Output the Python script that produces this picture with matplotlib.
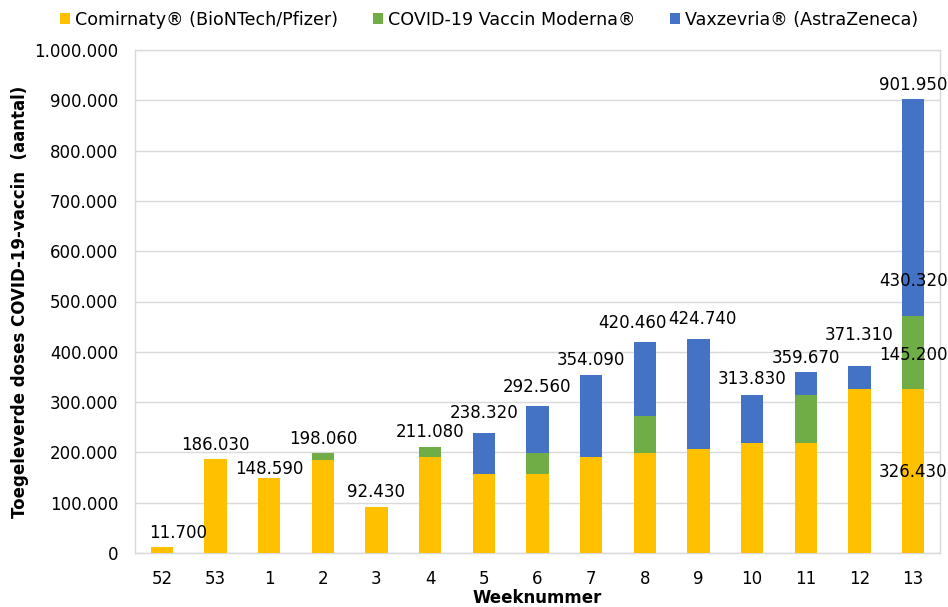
import matplotlib
matplotlib.use("Agg")
import matplotlib.pyplot as plt
from matplotlib.patches import Patch
import numpy as np

weeks = ["52", "53", "1", "2", "3", "4", "5", "6", "7", "8", "9", "10", "11", "12", "13"]
pfizer = [11700, 186030, 148590, 184000, 92430, 191000, 158000, 158000, 191000, 199000, 207000, 219000, 219000, 326430, 326430]
moderna = [0, 0, 0, 14060, 0, 20080, 0, 40000, 0, 73000, 0, 0, 94500, 0, 145200]
astra = [0, 0, 0, 0, 0, 0, 80320, 94560, 163090, 148460, 217740, 94830, 46170, 44880, 430320]
series_names = ["Comirnaty® (BioNTech/Pfizer)", "COVID-19 Vaccin Moderna®", "Vaxzevria® (AstraZeneca)"]
colors = ["#FFC000", "#70AD47", "#4472C4"]

# label offsets in points (dx, dy) for the total labels
total_offsets = [(12, 4), (0, 4), (0, 0), (0, 4), (0, 4), (0, 4), (0, 8), (0, 7), (0, 4),
                 (-9, 7), (3, 8), (0, 5), (0, 4), (0, 16), (0, 4)]

def fmt(v):
    return f"{v:,.0f}".replace(",", ".")

plt.rcParams['font.family'] = ['DejaVu Sans']
fig = plt.figure(figsize=(9.48, 6.07), dpi=100)
ax = fig.add_axes([135/948, 54/607, 805/948, 503/607])

x = np.arange(len(weeks))
p = np.array(pfizer); m = np.array(moderna); a = np.array(astra)
w = 0.41
ax.bar(x, p, w, color=colors[0], zorder=3)
ax.bar(x, m, w, bottom=p, color=colors[1], zorder=3)
ax.bar(x, a, w, bottom=p + m, color=colors[2], zorder=3)

totals = p + m + a
for i, t in enumerate(totals):
    dx, dy = total_offsets[i]
    ax.annotate(fmt(t), (x[i], t), xytext=(dx, dy), textcoords="offset points",
                ha="center", va="bottom", fontsize=12, color="#000000", zorder=5)

# segment labels for last week
i = len(weeks) - 1
ax.annotate(fmt(p[i]), (x[i], p[i] / 2), xytext=(0, -1), textcoords="offset points",
            ha="center", va="center", fontsize=12, zorder=5)
ax.annotate(fmt(m[i]), (x[i], p[i] + m[i] / 2), xytext=(0, -2), textcoords="offset points",
            ha="center", va="center", fontsize=12, zorder=5)
ax.annotate(fmt(a[i]), (x[i], p[i] + m[i] + a[i] / 2), xytext=(0, -53), textcoords="offset points",
            ha="center", va="center", fontsize=12, zorder=5)

ax.set_xlim(-0.5, len(weeks) - 0.5)
ax.set_ylim(0, 1000000)
ax.set_yticks(np.arange(0, 1000001, 100000))
ax.set_yticklabels([fmt(v) for v in np.arange(0, 1000001, 100000)], fontsize=12)
ax.set_xticks(x)
ax.set_xticklabels(weeks, fontsize=12)
ax.tick_params(axis='y', length=0, pad=12)
ax.tick_params(axis='x', length=0, pad=12)
ax.grid(axis='y', color="#D9D9D9", linewidth=1, zorder=0)
for s in ax.spines.values():
    s.set_color("#D9D9D9")
    s.set_linewidth(1)

ax.set_ylabel("Toegeleverde doses COVID-19-vaccin  (aantal)", fontsize=12, fontweight="bold", labelpad=4)
ax.set_xlabel("Weeknummer", fontsize=12, fontweight="bold", labelpad=1)

handles = [Patch(facecolor=c, edgecolor="none") for c in colors]
fig.legend(handles, series_names, loc="upper center", bbox_to_anchor=(0.516, 1.008), ncol=3,
           frameon=False, fontsize=12.6, handlelength=0.55, handleheight=0.55, handletextpad=0.3,
           columnspacing=2.0)

fig.savefig("out.png", dpi=100)
